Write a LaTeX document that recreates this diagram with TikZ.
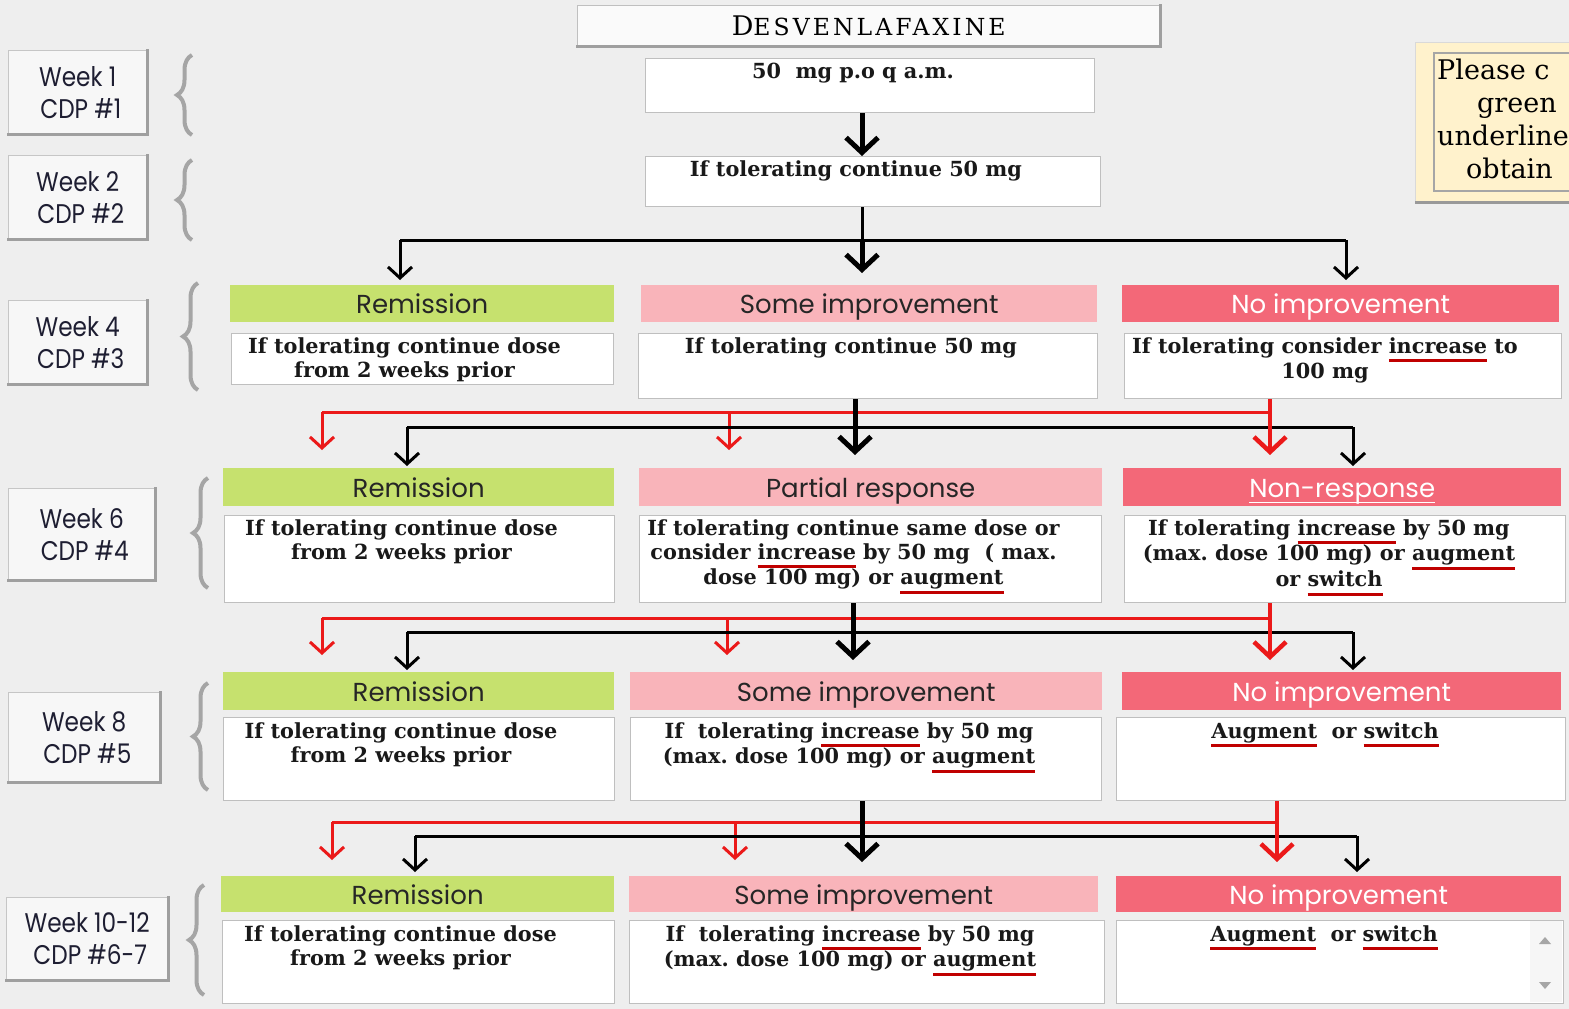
\documentclass[tikz,border=0pt]{standalone}
\usepackage{fontspec}
\newfontfamily\dvs{DejaVu Serif}
\newfontfamily\ttl{DejaVu Serif}[LetterSpace=13]
\newfontfamily\popp{Poppins}
\newfontfamily\poppc{Poppins}[FakeStretch=0.86]
\usetikzlibrary{arrows.meta,decorations.pathreplacing}
\definecolor{bg}{RGB}{238,238,238}
\definecolor{grn}{RGB}{198,225,110}
\definecolor{lpink}{RGB}{249,180,186}
\definecolor{dpink}{RGB}{243,104,120}
\definecolor{arred}{RGB}{235,25,25}
\definecolor{ulred}{RGB}{192,0,0}
\definecolor{brcol}{RGB}{165,165,165}
\definecolor{notecol}{RGB}{255,242,204}
\definecolor{wktext}{RGB}{30,30,50}
\newcommand\fbody{\dvs\bfseries\fontsize{20.8}{24}\selectfont\frenchspacing}
\newcommand\fhdr{\popp\fontsize{26}{28}\selectfont}
\newcommand\fwk{\poppc\fontsize{27}{32}\selectfont}
\newcommand\fnote{\dvs\fontsize{27}{33}\selectfont}
\newcommand\redu[1]{\setbox0\hbox{#1}\rlap{\raisebox{-9pt}{\textcolor{ulred}{\rule{\wd0}{3pt}}}}\box0\relax}
\newcommand\whu[1]{\setbox0\hbox{#1}\rlap{\raisebox{-6pt}{\textcolor{white}{\rule{\wd0}{1.6pt}}}}\box0\relax}
\newcommand\bx[6]{\node[#6, anchor=north west, minimum width={#4pt-#2pt}, minimum height={#5pt-#3pt}] (#1) at (#2,#3) {};}
\newcommand\hd[7]{\node[hdr, fill=#6, anchor=north west, minimum width={#4pt-#2pt}, minimum height={#5pt-#3pt}] (#1) at (#2,#3) {#7};}
\newcommand\wbox[6]{\node[wk, anchor=north west, minimum width={#4pt-#2pt}, minimum height={#5pt-#3pt}] (#1) at (#2,#3) {#6};
 \draw[shadowln] ([yshift=1pt]#1.north east) -- (#1.south east) -- ([xshift=-1pt]#1.south west);}
\newcommand\brc[3]{\draw[bracel] (#1,#3) -- (#1,#2);}
\begin{document}
\begin{tikzpicture}[x=1pt,y=-1pt,
 wk/.style={draw=gray!45, fill=gray!6, font=\fwk, text=wktext, align=center, inner sep=0},
 shadowln/.style={draw=gray!75, line width=2.5pt},
 hdr/.style={inner sep=0, font=\fhdr, text=black!85, text height=22pt, text depth=2pt},
 body/.style={draw=gray!50, fill=white, inner sep=0, line width=1pt},
 txt/.style={font=\fbody, align=center, inner sep=0, anchor=north, text=black!90},
 notetxt/.style={font=\fnote, anchor=base west, inner sep=0},
 bracel/.style={draw=brcol, line width=4pt, decorate, decoration={brace, amplitude=15pt}},
 blk/.style={draw=black, line width=3pt},
 blkth/.style={draw=black, line width=5pt},
 redl/.style={draw=arred, line width=3pt},
 redth/.style={draw=arred, line width=4.5pt},
 tipn/.style={-{Straight Barb[length=11pt,width=24pt]}},
 tipw/.style={-{Straight Barb[length=15pt,width=32pt]}}]
\path[use as bounding box, fill=bg] (0,0) rectangle (1569,1009);

% title
\node[draw=gray!50, fill=gray!4, anchor=north west, minimum width=583pt, minimum height=41pt, inner sep=0, text height=20pt, text depth=0pt] (title) at (577,5)
  {\ttl{\fontsize{27}{27}\selectfont D}{\fontsize{23.5}{24}\selectfont ESVENLAFAXINE}};
\draw[shadowln] ([yshift=1pt]title.north east) -- (title.south east) -- ([xshift=-1pt]title.south west);

% note box
\node[draw=gray!30, fill=notecol, anchor=north west, minimum width=180pt, minimum height=160pt, inner sep=0] (note) at (1415,42) {};
\draw[draw=gray!80, line width=2.5pt] (note.south west) -- ([xshift=40pt]note.south east);
\node[draw=gray!70, line width=2pt, anchor=north west, minimum width=160pt, minimum height=138pt, inner sep=0] (notein) at (1433,52) {};
\node[notetxt] (n1) at (1437,79) {Please c};
\node[notetxt] (n2) at (1477,112) {green};
\node[notetxt] (n3) at (1437,145) {underline};
\node[notetxt] (n4) at (1466,178) {obtain};

% week labels
\wbox{w1}{8}{50}{147}{134}{Week 1\\ \ CDP \#1}
\wbox{w2}{8}{155}{147}{239}{Week 2\\ \ CDP \#2}
\wbox{w4}{8}{300}{147}{384}{Week 4\\ \ CDP \#3}
\wbox{w6}{8}{488}{155}{580}{Week 6\\ \ CDP \#4}
\wbox{w8}{8}{692}{160}{782}{Week 8\\ \ CDP \#5}
\wbox{w10}{6}{897}{168}{980}{Week 10-12\\ \ CDP \#6-7}

% braces
\brc{192}{55}{135}
\brc{192}{160}{240}
\brc{198}{283}{390}
\brc{208}{478}{588}
\brc{208}{683}{790}
\brc{204}{885}{995}

% row 1 & 2
\bx{b1}{645}{58}{1094}{112}{body}
\node[txt] (t1) at ([xshift=-17pt,yshift=-5pt]b1.north) {50\ \ mg p.o q a.m.};
\bx{b2}{645}{156}{1100}{206}{body}
\node[txt] (t2) at ([xshift=-17pt,yshift=-4pt]b2.north) {If tolerating continue 50 mg};

% row 3
\hd{h3a}{230}{285}{614}{322}{grn}{Remission}
\hd{h3b}{641}{285}{1097}{322}{lpink}{Some improvement}
\hd{h3c}{1122}{285}{1559}{322}{dpink}{\textcolor{white}{No improvement}}
\bx{b3a}{231}{333}{613}{384}{body}
\bx{b3b}{638}{333}{1097}{398}{body}
\bx{b3c}{1124}{333}{1561}{398}{body}
\node[txt] (t3a) at ([xshift=-18pt,yshift=-4pt]b3a.north) {If tolerating continue dose\\from 2 weeks prior};
\node[txt] (t3b) at ([xshift=-17pt,yshift=-4pt]b3b.north) {If tolerating continue 50 mg};
\node[txt] (t3c) at ([xshift=-18pt,yshift=-4pt]b3c.north) {If tolerating consider \redu{increase} to\\100 mg};

% row 4
\hd{h4a}{223}{468}{614}{506}{grn}{Remission}
\hd{h4b}{639}{468}{1102}{506}{lpink}{Partial response}
\hd{h4c}{1123}{468}{1561}{506}{dpink}{\textcolor{white}{\whu{Non-response}}}
\bx{b4a}{224}{515}{614}{602}{body}
\bx{b4b}{639}{515}{1101}{602}{body}
\bx{b4c}{1124}{515}{1565}{602}{body}
\node[txt] (t4a) at ([xshift=-18pt,yshift=-4pt]b4a.north) {If tolerating continue dose\\from 2 weeks prior};
\node[txt] (t4b) at ([xshift=-17pt,yshift=-4pt]b4b.north) {If tolerating continue same dose or\\consider \redu{increase} by 50 mg\ \ ( max.\\dose 100 mg) or \redu{augment}};
\node[txt] (t4c) at ([xshift=-16pt,yshift=-4pt]b4c.north) {If tolerating \redu{increase} by 50 mg\\(max. dose 100 mg) or \redu{augment}\\or \redu{switch}};

% row 5
\hd{h5a}{223}{672}{614}{710}{grn}{Remission}
\hd{h5b}{630}{672}{1102}{710}{lpink}{Some improvement}
\hd{h5c}{1122}{672}{1561}{710}{dpink}{\textcolor{white}{No improvement}}
\bx{b5a}{223}{717}{614}{800}{body}
\bx{b5b}{630}{717}{1101}{800}{body}
\bx{b5c}{1116}{717}{1565}{800}{body}
\node[txt] (t5a) at ([xshift=-18pt,yshift=-5pt]b5a.north) {If tolerating continue dose\\from 2 weeks prior};
\node[txt] (t5b) at ([xshift=-17pt,yshift=-5pt]b5b.north) {If\ \ tolerating \redu{increase} by 50 mg\\(max. dose 100 mg) or \redu{augment}};
\node[txt] (t5c) at ([xshift=-16pt,yshift=-5pt]b5c.north) {\redu{Augment}\ \ or \redu{switch}};

% row 6
\hd{h6a}{221}{876}{614}{912}{grn}{Remission}
\hd{h6b}{629}{876}{1098}{912}{lpink}{Some improvement}
\hd{h6c}{1116}{876}{1561}{912}{dpink}{\textcolor{white}{No improvement}}
\bx{b6a}{222}{920}{614}{1003}{body}
\bx{b6b}{629}{920}{1104}{1003}{body}
\bx{b6c}{1116}{920}{1563}{1003}{body}
\node[txt] (t6a) at ([xshift=-18pt,yshift=-5pt]b6a.north) {If tolerating continue dose\\from 2 weeks prior};
\node[txt] (t6b) at ([xshift=-17pt,yshift=-5pt]b6b.north) {If\ \ tolerating \redu{increase} by 50 mg\\(max. dose 100 mg) or \redu{augment}};
\node[txt] (t6c) at ([xshift=-16pt,yshift=-5pt]b6c.north) {\redu{Augment}\ \ or \redu{switch}};
% scroll bar
\fill[gray!7] (1530,921) rectangle (1562,1002);
\fill[gray!70] (1539,944) -- (1551,944) -- (1545,937) -- cycle;
\fill[gray!70] (1539,982) -- (1551,982) -- (1545,989) -- cycle;

% connectors row1 -> row2
\coordinate (c1) at (862,0);
\draw[blkth,tipw] (b1.south -| c1) -- (b2.north -| c1);
% row2 -> row3
\coordinate (j1) at (862,240);
\coordinate (j1L) at (400,240);
\coordinate (j1R) at (1346,240);
\draw[blk] (b2.south -| j1) -- (j1);
\draw[blk] (j1L) -- (j1R);
\draw[blk,tipn,shorten >=5pt] (j1L) -- (j1L |- h3a.north);
\draw[blkth,tipw,shorten >=12pt] (j1) -- (j1 |- h3b.north);
\draw[blk,tipn,shorten >=5pt] (j1R) -- (j1R |- h3c.north);

% row3 -> row4
\coordinate (r3) at (1270,412);
\coordinate (r3L) at (322,412);
\coordinate (r3M) at (729,412);
\coordinate (k3) at (855,427);
\coordinate (k3L) at (407,427);
\coordinate (k3R) at (1353,427);
\draw[redl] (r3L) -- (r3);
\draw[redl,tipn,shorten >=18pt] (r3L) -- (r3L |- h4a.north);
\draw[redl,tipn,shorten >=18pt] (r3M) -- (r3M |- h4b.north);
\draw[blk] (k3L) -- (k3R);
\draw[blk,tipn,shorten >=2pt] (k3L) -- (k3L |- h4a.north);
\draw[blk,tipn,shorten >=2pt] (k3R) -- (k3R |- h4c.north);
\draw[blkth,tipw,shorten >=13pt] (b3b.south -| k3) -- (k3 |- h4b.north);
\draw[redth,tipw,shorten >=13pt] (b3c.south -| r3) -- (r3 |- h4c.north);

% row4 -> row5
\coordinate (r4) at (1270,618);
\coordinate (r4L) at (322,618);
\coordinate (r4M) at (727,618);
\coordinate (k4) at (853,632);
\coordinate (k4L) at (407,632);
\coordinate (k4R) at (1353,632);
\draw[redl] (r4L) -- (r4);
\draw[redl,tipn,shorten >=17pt] (r4L) -- (r4L |- h5a.north);
\draw[redl,tipn,shorten >=17pt] (r4M) -- (r4M |- h5b.north);
\draw[blk] (k4L) -- (k4R);
\draw[blk,tipn,shorten >=2pt] (k4L) -- (k4L |- h5a.north);
\draw[blk,tipn,shorten >=2pt] (k4R) -- (k4R |- h5c.north);
\draw[blkth,tipw,shorten >=12pt] (b4b.south -| k4) -- (k4 |- h5b.north);
\draw[redth,tipw,shorten >=12pt] (b4c.south -| r4) -- (r4 |- h5c.north);

% row5 -> row6
\coordinate (r5) at (1277,822);
\coordinate (r5L) at (332,822);
\coordinate (r5M) at (735,822);
\coordinate (k5) at (862,836);
\coordinate (k5L) at (415,836);
\coordinate (k5R) at (1357,836);
\draw[redl] (r5L) -- (r5);
\draw[redl,tipn,shorten >=16pt] (r5L) -- (r5L |- h6a.north);
\draw[redl,tipn,shorten >=16pt] (r5M) -- (r5M |- h6b.north);
\draw[blk] (k5L) -- (k5R);
\draw[blk,tipn,shorten >=4pt] (k5L) -- (k5L |- h6a.north);
\draw[blk,tipn,shorten >=4pt] (k5R) -- (k5R |- h6c.north);
\draw[blkth,tipw,shorten >=14pt] (b5b.south -| k5) -- (k5 |- h6b.north);
\draw[redth,tipw,shorten >=14pt] (b5c.south -| r5) -- (r5 |- h6c.north);
\end{tikzpicture}
\end{document}
